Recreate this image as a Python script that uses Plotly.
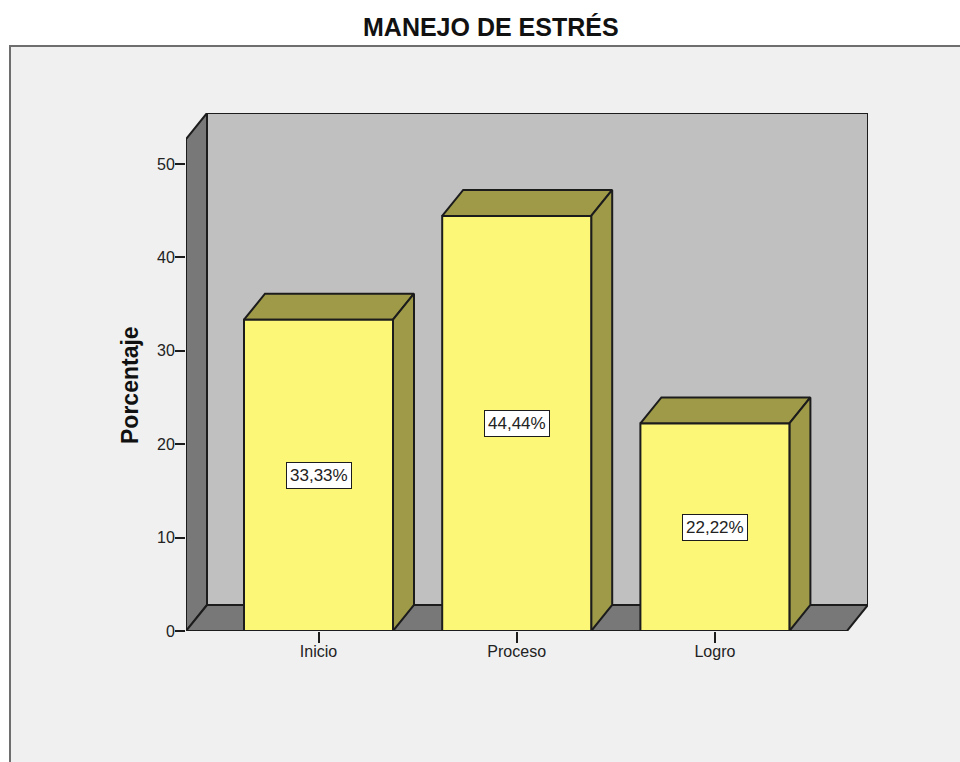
import plotly.graph_objects as go

categories = ["Inicio", "Proceso", "Logro"]
values = [33.33, 44.44, 22.22]
labels = ["33,33%", "44,44%", "22,22%"]
y_ticks = [0, 10, 20, 30, 40, 50]
title = "MANEJO DE ESTRÉS"
y_title = "Porcentaje"

W, H = 960, 762
FONT = "Liberation Sans"
BG, WALL, SIDE = "#f0f0f0", "#c0c0c0", "#787878"
YELLOW, OLIVE, INK = "#fcf777", "#9e9a48", "#1c1c1c"

# pixel geometry of the plot box
PX_L, PX_R, PX_B, PX_T = 186, 868, 631, 113
PX_PER_CAT, PX_PER_UNIT = 198.2, 9.34
PX_C0 = 318.5
dx, dy = 21 / PX_PER_CAT, 26 / PX_PER_UNIT
half = 74.5 / PX_PER_CAT
x0 = (PX_L - PX_C0) / PX_PER_CAT
x1 = (PX_R - PX_C0) / PX_PER_CAT
y1 = (PX_B - PX_T) / PX_PER_UNIT

fig = go.Figure()


def poly(xs, ys, color, width=2):
    fig.add_trace(go.Scatter(
        x=xs + xs[:1], y=ys + ys[:1], mode="lines", fill="toself", fillcolor=color,
        line=dict(color=INK, width=width), hoverinfo="skip", showlegend=False,
        cliponaxis=False,
    ))


# back wall, left wall, floor
poly([x0 + dx, x1, x1, x0 + dx], [dy, dy, y1, y1], WALL)
poly([x0, x0 + dx, x0 + dx, x0], [0, dy, y1, y1 - dy], SIDE)
poly([x0, x1 - dx, x1, x0 + dx], [0, 0, dy, dy], SIDE)

# bars
for i, v in enumerate(values):
    l, r = i - half, i + half
    poly([l, r, r + dx, l + dx], [v, v, v + dy, v + dy], OLIVE)
    poly([r, r + dx, r + dx, r], [0, dy, v + dy, v], OLIVE)
    poly([l, r, r, l], [0, 0, v, v], YELLOW)

for i, (v, t) in enumerate(zip(values, labels)):
    fig.add_annotation(
        x=i, y=v / 2, text=t, showarrow=False, bgcolor="white", bordercolor=INK,
        borderwidth=1, borderpad=3, font=dict(family=FONT, size=17, color="#222222"),
    )

# chart frame
fig.add_shape(type="path", xref="paper", yref="paper", layer="below",
              path=f"M {10/W} -0.02 L {10/W} {1-46/H} L 1.01 {1-46/H} L 1.01 -0.02 Z",
              fillcolor=BG, line=dict(color="#6e6e6e", width=2))

fig.add_annotation(xref="paper", yref="paper", x=491 / W, y=1 - 27 / H, text=f"<b>{title}</b>",
                   xanchor="center", yanchor="middle",
                   showarrow=False, font=dict(family=FONT, size=25, color="#111111"))
fig.add_annotation(xref="paper", yref="paper", x=130 / W, y=1 - 385 / H, text=f"<b>{y_title}</b>",
                   xanchor="center", yanchor="middle",
                   textangle=-90, showarrow=False, font=dict(family=FONT, size=23, color="#111111"))

fig.update_layout(
    width=W, height=H, margin=dict(l=0, r=0, t=0, b=0), autosize=False,
    paper_bgcolor="white", plot_bgcolor="rgba(0,0,0,0)", showlegend=False,
    xaxis=dict(domain=[PX_L / W, PX_R / W], range=[x0, x1], tickmode="array", automargin=False,
               tickvals=list(range(len(categories))), ticktext=categories,
               ticks="outside", ticklen=11, tickwidth=2, tickcolor=INK, showgrid=False,
               zeroline=False, showline=False, ticklabelstandoff=-5,
               tickfont=dict(family=FONT, size=16, color="#222222")),
    yaxis=dict(domain=[1 - PX_B / H, 1 - PX_T / H], range=[0, y1], tickmode="array", automargin=False,
               tickvals=y_ticks, ticks="outside", ticklen=10, tickwidth=2, tickcolor=INK,
               showgrid=False, zeroline=False, showline=False, ticklabelstandoff=-3,
               tickfont=dict(family=FONT, size=16, color="#222222")),
)

fig.write_html("out.html", config=dict(displayModeBar=False),
               post_script="document.body.style.margin='0';document.documentElement.style.overflow='hidden';")
